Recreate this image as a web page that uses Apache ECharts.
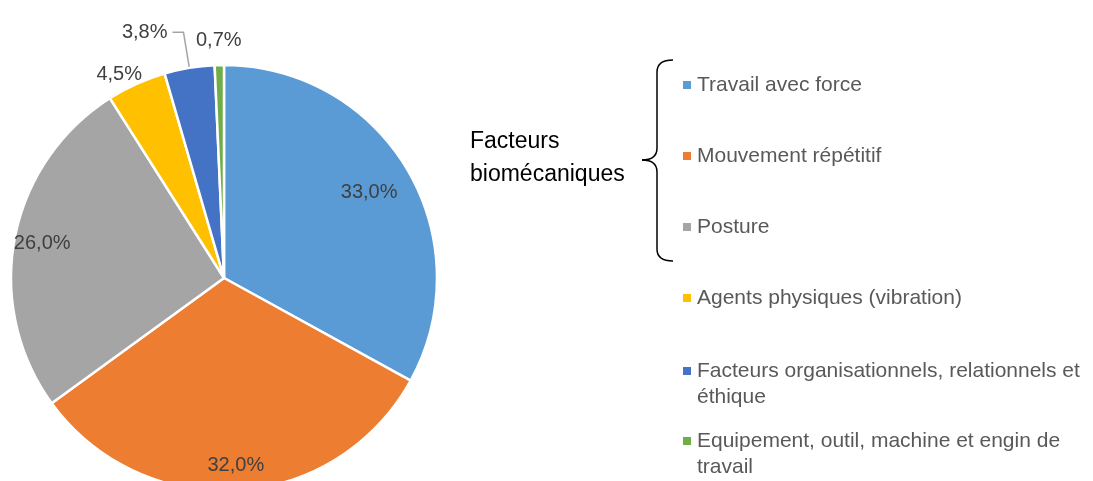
<!DOCTYPE html>
<html>
<head>
<meta charset="utf-8">
<script src="https://cdn.jsdelivr.net/npm/echarts@6/dist/echarts.min.js"></script>
<style>
  html, body { margin: 0; padding: 0; background: #fff; }
  #chart { width: 1093px; height: 481px; }
</style>
</head>
<body>
<div id="chart"></div>
<script>
  // données
  const categories = [
    'Travail avec force',
    'Mouvement répétitif',
    'Posture',
    'Agents physiques (vibration)',
    'Facteurs organisationnels, relationnels et éthique',
    'Equipement, outil, machine et engin de travail'
  ];
  const values = [33.0, 32.0, 26.0, 4.5, 3.8, 0.7];
  const legendLabels = [
    'Travail avec force',
    'Mouvement répétitif',
    'Posture',
    'Agents physiques (vibration)',
    '\nFacteurs organisationnels, relationnels et\néthique',
    '\nEquipement, outil, machine et engin de\ntravail'
  ];
  const groupLabel = 'Facteurs\nbiomécaniques';

  const colors = ['#5B9BD5', '#ED7D31', '#A5A5A5', '#FFC000', '#4472C4', '#70AD47'];
  const FONT = 'Liberation Sans';
  const CX = 224, CY = 278, R = 213;

  // position des étiquettes intérieures (fraction du rayon)
  const insideRatio = [0.77, 0.86, 0.845];
  // lignes de la légende (centre de la 1re ligne de texte)
  const legendRows = [85, 156, 227, 298, 371, 441];

  const chart = echarts.init(document.getElementById('chart'));

  const pieData = values.map((v, i) => {
    const item = { name: categories[i], value: v, itemStyle: { color: colors[i] } };
    if (i < 3) {
      item.label = { position: 'inside' };
    } else if (i === 3) {
      item.labelLine = { show: false, length: 10, length2: 8 };
    } else if (i === 4) {
      item.labelLine = { show: true, length: 36, length2: 11 };
      item.label = { distanceToLabelLine: 5 };
    } else {
      item.labelLine = { show: false, length: 25, length2: 0 };
      item.label = { distanceToLabelLine: 0 };
    }
    return item;
  });

  const legends = categories.map((name, i) => ({
    data: [name],
    orient: 'vertical',
    left: 681,
    top: legendRows[i] - (legendLabels[i].startsWith('\n') ? 39 : 13),
    padding: 0,
    icon: 'rect',
    itemWidth: 10,
    itemHeight: 10,
    selectedMode: false,
    formatter: () => legendLabels[i],
    textStyle: { fontFamily: FONT, fontSize: 21, color: '#595959', lineHeight: 26 }
  }));

  // accolade
  const braceStyle = { fill: 'none', stroke: '#000', lineWidth: 1.5 };
  const brace = [
    { type: 'bezierCurve', shape: { x1: 673, y1: 60, cpx1: 657, cpy1: 60, x2: 657, y2: 72 } },
    { type: 'line', shape: { x1: 657, y1: 72, x2: 657, y2: 148 } },
    { type: 'bezierCurve', shape: { x1: 657, y1: 148, cpx1: 657, cpy1: 160, x2: 642, y2: 160 } },
    { type: 'bezierCurve', shape: { x1: 642, y1: 160, cpx1: 657, cpy1: 160, x2: 657, y2: 172 } },
    { type: 'line', shape: { x1: 657, y1: 172, x2: 657, y2: 249 } },
    { type: 'bezierCurve', shape: { x1: 657, y1: 249, cpx1: 657, cpy1: 261, x2: 673, y2: 261 } }
  ].map(e => Object.assign(e, { style: braceStyle }));

  const option = {
    backgroundColor: '#fff',
    animation: false,
    title: {
      text: groupLabel,
      left: 470,
      top: 125,
      padding: 0,
      textStyle: { fontFamily: FONT, fontSize: 23, fontWeight: 'normal', color: '#000', lineHeight: 33 }
    },
    legend: legends,
    graphic: brace,
    series: [{
      type: 'pie',
      center: [CX, CY],
      radius: [0, R],
      startAngle: 90,
      clockwise: true,
      avoidLabelOverlap: false,
      itemStyle: { borderColor: '#fff', borderWidth: 2.5 },
      label: {
        show: true,
        position: 'outside',
        fontFamily: FONT,
        fontSize: 20,
        color: '#404040',
        formatter: p => p.value.toFixed(1).replace('.', ',') + '%'
      },
      labelLine: {
        show: false,
        length: 12,
        length2: 0,
        lineStyle: { color: '#A5A5A5', width: 1.5 }
      },
      labelLayout: p => {
        if (p.dataIndex < 3) {
          const k = insideRatio[p.dataIndex] / 0.5 - 1;
          const lx = p.labelRect.x + p.labelRect.width / 2 - CX;
          const ly = p.labelRect.y + p.labelRect.height / 2 - CY;
          return { dx: lx * k, dy: ly * k };
        }
        if (p.dataIndex === 3 || p.dataIndex === 5) return { align: 'center' };
        return {};
      },
      data: pieData
    }]
  };

  chart.setOption(option);
</script>
</body>
</html>
